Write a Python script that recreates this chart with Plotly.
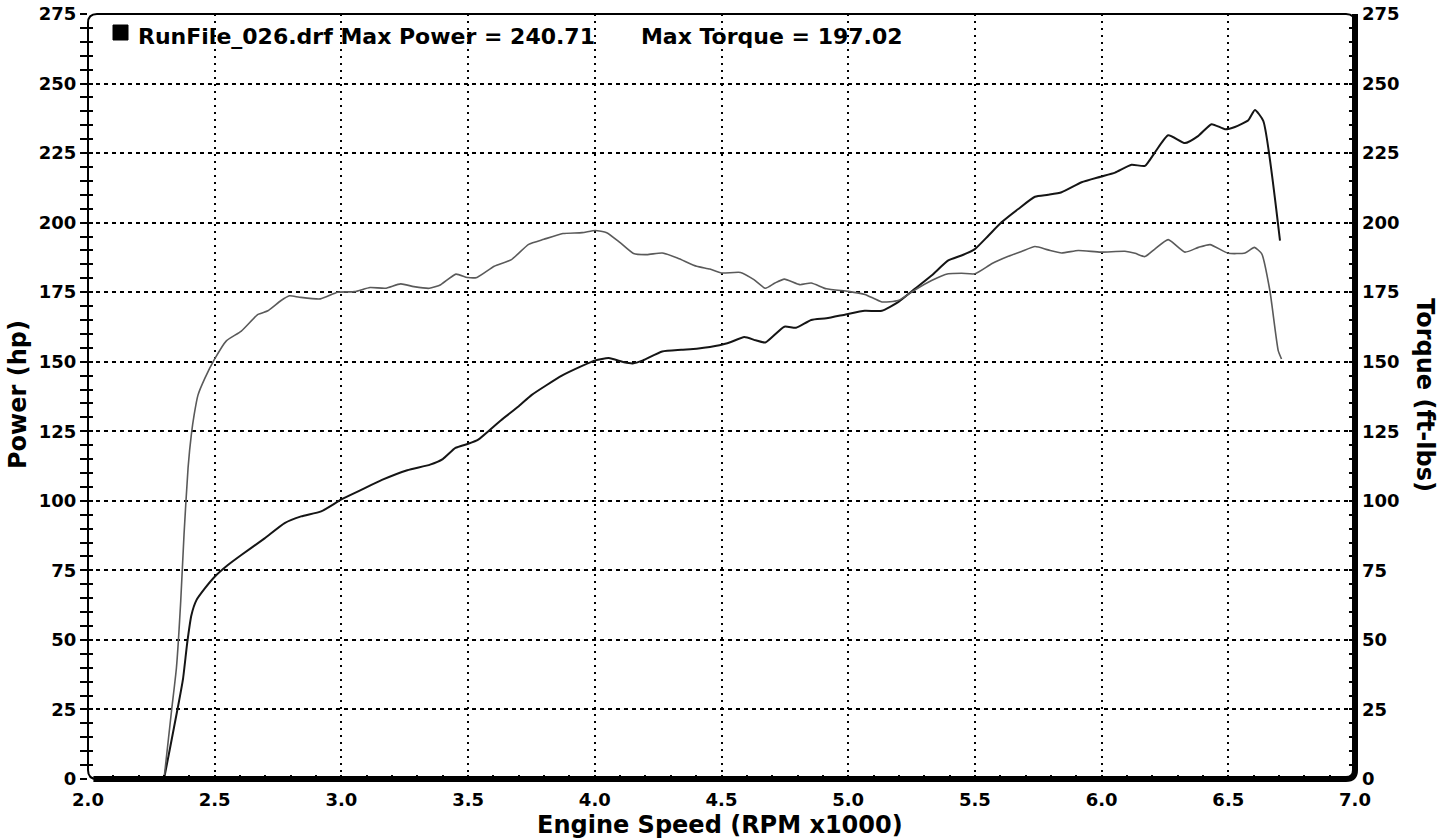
import plotly.graph_objects as go

# ---------------- data ----------------
torque_rpm = [2.30, 2.329, 2.349, 2.366, 2.379, 2.395, 2.408, 2.419, 2.434, 2.461, 2.50, 2.546, 2.605,
              2.671, 2.71, 2.762, 2.795, 2.834, 2.917, 2.985, 3.053, 3.113, 3.173, 3.234, 3.286, 3.347,
              3.392, 3.452, 3.497, 3.535, 3.603, 3.671, 3.739, 3.799, 3.874, 3.95, 4.002, 4.047, 4.10,
              4.153, 4.206, 4.266, 4.326, 4.402, 4.454, 4.50, 4.575, 4.628, 4.673, 4.711, 4.748, 4.809,
              4.854, 4.914, 5.0, 5.066, 5.133, 5.197, 5.263, 5.329, 5.395, 5.447, 5.50, 5.566, 5.632,
              5.684, 5.737, 5.789, 5.842, 5.908, 5.996, 6.092, 6.132, 6.171, 6.21, 6.263, 6.329, 6.382,
              6.428, 6.50, 6.566, 6.603, 6.632, 6.664, 6.697, 6.71]
torque_val = [0, 24, 40, 64, 88, 112, 124, 131, 138, 144, 151, 157.5, 161,
              167, 168.3, 172, 173.7, 173.2, 172.6, 175, 175.2, 176.7, 176.4, 178, 177, 176.4,
              177.7, 181.5, 180.3, 180.3, 184.3, 186.7, 192.2, 194, 196.1, 196.4, 197.2, 196.4, 192.8,
              188.9, 188.5, 189.1, 187.3, 184.3, 183.3, 181.9, 182.1, 179.5, 176.4, 178.3, 179.7, 177.7,
              178.3, 176.2, 175.3, 174.2, 171.5, 172, 175.8, 179.2, 181.6, 181.8, 181.6, 185.2, 187.9,
              189.6, 191.4, 190.2, 189.1, 190, 189.4, 189.7, 189, 187.8, 190.5, 193.9, 189.4, 191.1,
              192.1, 189, 189.1, 191.1, 188.8, 175.6, 154, 151]

power_rpm = [2.30, 2.323, 2.356, 2.375, 2.392, 2.408, 2.428, 2.461, 2.50, 2.552, 2.605, 2.697, 2.776,
             2.841, 2.92, 3.0, 3.08, 3.16, 3.26, 3.35, 3.40, 3.45, 3.5, 3.54, 3.63, 3.70, 3.75, 3.87,
             3.95, 4.002, 4.055, 4.115, 4.15, 4.19, 4.266, 4.341, 4.402, 4.492, 4.537, 4.59, 4.635,
             4.673, 4.748, 4.794, 4.854, 4.914, 4.99, 5.065, 5.133, 5.197, 5.263, 5.329, 5.395, 5.447,
             5.50, 5.553, 5.605, 5.671, 5.737, 5.789, 5.842, 5.921, 5.996, 6.053, 6.118, 6.171, 6.21,
             6.263, 6.329, 6.382, 6.434, 6.487, 6.526, 6.579, 6.605, 6.638, 6.704]
power_val = [0, 10.8, 26.4, 36, 49.3, 58.9, 64.3, 68.5, 72.7, 76.9, 80.5, 86.5, 92,
             94.4, 96.2, 100.5, 104, 107.5, 111, 113, 115, 119, 120.5, 122, 129, 134, 138, 145,
             148.5, 150.5, 151.3, 149.8, 149.4, 150.5, 153.7, 154.3, 154.7, 155.9, 157.1, 158.9, 157.7,
             156.9, 162.6, 162.2, 165, 165.6, 167, 168.3, 168.3, 171.4, 176.2, 181, 186.4, 188.2,
             190.5, 195.3, 200.1, 204.9, 209.3, 210, 210.9, 214.5, 216.5, 218, 220.8, 220.4, 225.2,
             231.4, 228.6, 231.2, 235.4, 233.6, 234.4, 236.8, 240.5, 236.6, 193.5]

x_ticks = [2.0, 2.5, 3.0, 3.5, 4.0, 4.5, 5.0, 5.5, 6.0, 6.5, 7.0]
y_ticks = [0, 25, 50, 75, 100, 125, 150, 175, 200, 225, 250, 275]

run_file = "RunFile_026.drf"
max_power = "240.71"
max_torque = "197.02"

# ---------------- figure ----------------
FONT = "DejaVu Sans"
W, H = 1449, 840
L, R, T, B = 88, 94, 14, 61

fig = go.Figure()
fig.add_trace(go.Scatter(x=torque_rpm, y=torque_val, mode="lines", yaxis="y2",
                         line=dict(color="#5a5a5a", width=1.6, shape="spline", smoothing=0.5),
                         name="Torque", showlegend=False))
fig.add_trace(go.Scatter(x=power_rpm, y=power_val, mode="lines", yaxis="y",
                         line=dict(color="#151515", width=2.0, shape="spline", smoothing=0.5),
                         name="Power", showlegend=False))
# helper trace so the inner-tick axis is drawn
fig.add_trace(go.Scatter(x=[None], y=[None], yaxis="y3", showlegend=False, hoverinfo="skip"))

tickfont = dict(family=FONT, size=18, color="black", weight="bold")

fig.update_layout(
    width=W, height=H,
    margin=dict(l=L, r=R, t=T, b=B, autoexpand=False),
    paper_bgcolor="white", plot_bgcolor="white",
    showlegend=False,
    xaxis=dict(range=[2, 7], tickvals=x_ticks, ticktext=[f"{v:.1f}" for v in x_ticks],
               automargin=False,
               showgrid=True, gridcolor="black", gridwidth=2, griddash="2px,5px",
               zeroline=False, showline=False, ticks="inside", ticklen=4, tickwidth=2,
               tickcolor="black", tickfont=tickfont, ticklabelstandoff=8,
               minor=dict(dtick=0.1, ticks="inside", ticklen=4, tickwidth=2,
                          tickcolor="black", showgrid=False)),
    yaxis=dict(range=[0, 275], tickvals=y_ticks, showgrid=True, gridcolor="black",
               automargin=False,
               gridwidth=1.5, griddash="4px,4px", zeroline=False, showline=False,
               ticks="outside", ticklen=7, tickwidth=2, tickcolor="black",
               tickfont=tickfont, ticklabelstandoff=0,
               minor=dict(dtick=5, ticks="outside", ticklen=7, tickwidth=2,
                          tickcolor="black", showgrid=False)),
    yaxis3=dict(range=[0, 275], overlaying="y", side="left", anchor="x", automargin=False,
                tickvals=y_ticks, showgrid=False, zeroline=False, showticklabels=False,
                ticks="inside", ticklen=5, tickwidth=2, tickcolor="black",
                minor=dict(dtick=5, ticks="inside", ticklen=5, tickwidth=2,
                           tickcolor="black", showgrid=False)),
    yaxis2=dict(range=[0, 275], overlaying="y", side="right", anchor="x", automargin=False,
                tickvals=y_ticks, showgrid=False, zeroline=False, showline=False,
                ticks="inside", ticklen=6, tickwidth=2, tickcolor="black",
                tickfont=tickfont, ticklabelstandoff=6,
                minor=dict(dtick=5, ticks="inside", ticklen=6, tickwidth=2,
                           tickcolor="black", showgrid=False)),
)

# frame with rounded corners
pw, ph = W - L - R, H - T - B
rx, ry = 9 / pw, 9 / ph
thin = (f"M 0,{ry} L 0,{1-ry} Q 0,1 {rx},1 L {1-rx},1 Q 1,1 1,{1-ry} "
        f"L 1,{ry} Q 1,0 {1-rx},0 L {rx},0 Q 0,0 0,{ry} Z")
fig.add_shape(type="path", path=thin, xref="paper", yref="paper",
              line=dict(color="black", width=2))
thick = f"M {rx*0.6},0 L {1-rx},0 Q 1,0 1,{ry} L 1,1"
fig.add_shape(type="path", path=thick, xref="paper", yref="paper",
              line=dict(color="black", width=6))

# legend square + text
fig.add_shape(type="rect", xref="paper", yref="paper",
              x0=(113 - L) / pw, x1=(128 - L) / pw,
              y0=1 - (40 - T) / ph, y1=1 - (25 - T) / ph,
              fillcolor="black", line=dict(color="black", width=1))
fig.add_annotation(xref="paper", yref="paper", x=(136 - L) / pw, y=1 - (36 - T) / ph,
                   xanchor="left", yanchor="middle", showarrow=False,
                   text=f"{run_file} Max Power = {max_power}" + "&nbsp;" * 6 +
                        f"Max Torque = {max_torque}",
                   font=dict(family=FONT, size=22, color="black", weight="bold"))

titlefont = dict(family=FONT, size=24, color="black", weight="bold")
fig.add_annotation(xref="paper", yref="paper", x=(720 - L) / pw, y=-(825 - (H - B)) / ph,
                   xanchor="center", yanchor="middle", showarrow=False,
                   text="Engine Speed (RPM x1000)", font=titlefont)
fig.add_annotation(xref="paper", yref="paper", x=(18 - L) / pw, y=1 - (395 - T) / ph,
                   xanchor="center", yanchor="middle", showarrow=False, textangle=-90,
                   text="Power (hp)", font=titlefont)
fig.add_annotation(xref="paper", yref="paper", x=(1425 - L) / pw, y=1 - (395 - T) / ph,
                   xanchor="center", yanchor="middle", showarrow=False, textangle=90,
                   text="Torque (ft-lbs)", font=titlefont)

fig.write_html("out.html", config={"displayModeBar": False},
               post_script="document.body.style.margin='0px';document.body.style.overflow='hidden';")
